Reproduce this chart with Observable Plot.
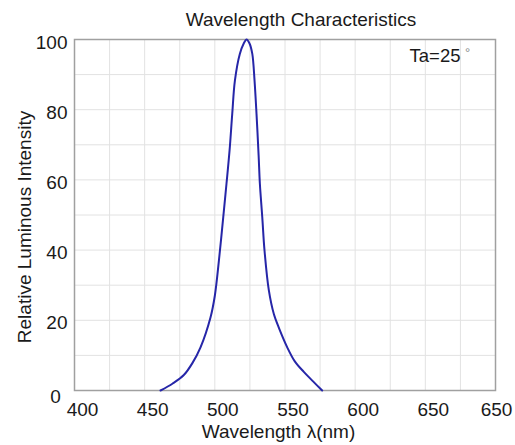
<!DOCTYPE html>
<html>
<head>
<meta charset="utf-8">
<script src="https://cdn.jsdelivr.net/npm/d3@7"></script>
<script src="https://cdn.jsdelivr.net/npm/@observablehq/plot@0.6"></script>
<style>
  html, body { margin: 0; padding: 0; background: #fff; }
</style>
</head>
<body>
<div id="chart"></div>
<script>
// Wavelength (nm) and relative luminous intensity (%)
const wavelength = [461.3, 470, 477.9, 484, 489.8, 496.9, 500, 502.9, 506.0, 508.3, 510.5, 512.4, 514.3, 517.8, 520.5, 522.6, 524.8, 526.7, 528.3, 529.7, 531.2, 532.1, 533.8, 535.4, 538.5, 542.1, 546, 551.6, 557, 563.4, 570, 576.5];
const intensity  = [0, 2.0, 4.4, 7.8, 12.3, 20.8, 27, 37, 49.4, 58.9, 68.4, 78.8, 88.3, 95.9, 98.8, 100, 98.8, 95.9, 88.3, 78.8, 67, 58.9, 49.4, 39.9, 28.5, 21.7, 17.5, 12.3, 8.3, 5.3, 2.6, 0];

const xTicks = [400, 450, 500, 550, 600, 650, 700];
const xTickLabels = ["400", "450", "500", "550", "600", "650", "650"];
const yTicks = [0, 20, 40, 60, 80, 100];
const yTickLabels = ["0", "20", "40", "60", "80", "100"];
const xGrid = [400, 425, 450, 475, 500, 525, 550, 575, 600, 625, 650, 675, 700];
const yGrid = [0, 10, 20, 30, 40, 50, 60, 70, 80, 90, 100];

const title = "Wavelength Characteristics";
const xTitle = "Wavelength λ(nm)";
const yTitle = "Relative Luminous Intensity";
const condition = "Ta=25";
const degree = "°";

const data = wavelength.map((w, i) => ({w, v: intensity[i]}));
const xLabel = new Map(xTicks.map((t, i) => [t, xTickLabels[i]]));
const yLabel = new Map(yTicks.map((t, i) => [t, yTickLabels[i]]));

const font = "'Liberation Sans', Arial, Helvetica, sans-serif";
const fs = 19;
const ink = "#1a1a1a";

const chart = Plot.plot({
  width: 515,
  height: 445,
  marginLeft: 74,
  marginRight: 20,
  marginTop: 39,
  marginBottom: 55,
  style: {fontFamily: font, fontSize: fs + "px", color: ink, background: "#fff"},
  x: {domain: [400, 700], label: null},
  y: {domain: [0, 100], label: null},
  marks: [
    Plot.gridX(xGrid, {stroke: "#e2e2e2", strokeOpacity: 1, strokeWidth: 1}),
    Plot.gridY(yGrid, {stroke: "#e2e2e2", strokeOpacity: 1, strokeWidth: 1}),
    Plot.frame({stroke: "#a0a0a0", strokeWidth: 1.5}),
    Plot.line(data, {x: "w", y: "v", curve: "catmull-rom", stroke: "#2626a8", strokeWidth: 2}),
    Plot.axisX(xTicks.slice(0, 6), {label: null, tickSize: 0, tickPadding: 12, dx: 8, fontSize: fs, tickFormat: d => xLabel.get(d), fill: ink}),
    Plot.axisX(xTicks.slice(6), {label: null, tickSize: 0, tickPadding: 12, dx: 1, fontSize: fs, tickFormat: d => xLabel.get(d), fill: ink}),
    Plot.axisY(yTicks.slice(1), {label: null, tickSize: 0, tickPadding: 7, dy: 3, fontSize: fs, tickFormat: d => yLabel.get(d), fill: ink}),
    Plot.text([yTicks[0]], {x: () => xTicks[0], y: d => d, text: d => yLabel.get(d), dx: -19, dy: 6, textAnchor: "middle", fontSize: fs, fill: ink}),
    Plot.text([title], {frameAnchor: "top", dx: 16, dy: -20, textAnchor: "middle", lineAnchor: "middle", fontSize: fs, fill: ink}),
    Plot.text([xTitle], {frameAnchor: "bottom", dx: -6.5, dy: 41, textAnchor: "middle", lineAnchor: "middle", fontSize: fs, fill: ink}),
    Plot.text([yTitle], {frameAnchor: "left", dx: -50, dy: 12, rotate: -90, textAnchor: "middle", lineAnchor: "middle", fontSize: fs, fill: ink}),
    Plot.text([condition], {frameAnchor: "top-right", dx: -35, dy: 16.5, textAnchor: "end", lineAnchor: "middle", fontSize: 18.5, fill: ink}),
    Plot.text([degree], {frameAnchor: "top-right", dx: -28, dy: 13, textAnchor: "middle", lineAnchor: "middle", fontSize: 13, fill: "#888"})
  ]
});
document.getElementById("chart").appendChild(chart);
</script>
</body>
</html>
